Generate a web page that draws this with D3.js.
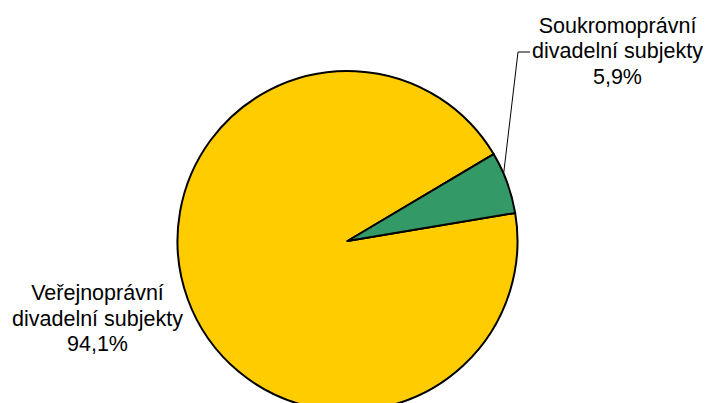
<!DOCTYPE html>
<html><head><meta charset="utf-8">
<script src="https://cdn.jsdelivr.net/npm/d3@7"></script>
<style>html,body{margin:0;padding:0;background:#fff;}svg{display:block;}</style>
</head><body>
<svg id="chart" width="707" height="403"></svg>
<script>
const categories = ["Veřejnoprávní divadelní subjekty", "Soukromoprávní divadelní subjekty"];
const values = [94.1, 5.9];
const labelLines = [["Veřejnoprávní", "divadelní subjekty", "94,1%"], ["Soukromoprávní", "divadelní subjekty", "5,9%"]];
const colors = ["#FFCC00", "#339966"];

const svg = d3.select("#chart");
const cx = 347.5, cy = 241, r = 170;
const start = 80.5 * Math.PI / 180;
const pie = d3.pie().sort(null).value(d => d.v).startAngle(start).endAngle(start + 2 * Math.PI);
const data = pie(categories.map((c, i) => ({c, v: values[i], i})));
const arc = d3.arc().innerRadius(0).outerRadius(r);
const g = svg.append("g").attr("transform", `translate(${cx},${cy})`);
g.selectAll("path").data(data).join("path")
  .attr("d", arc)
  .attr("fill", d => colors[d.data.i])
  .attr("stroke", "#000").attr("stroke-width", 2).attr("stroke-linejoin", "round");

// leader line for small slice (anchored on the slice's outer edge)
const green = data[1];
const anchor = green.startAngle + (green.endAngle - green.startAngle) * 0.35;
const px = cx + Math.sin(anchor) * r, py = cy - Math.cos(anchor) * r;
svg.append("polyline")
  .attr("points", `${px},${py} 518,52 530,52`)
  .attr("fill", "none").attr("stroke", "#000").attr("stroke-width", 1);

const labelPos = [{x: 97.5, y: 300}, {x: 617.5, y: 32.5}];
labelLines.forEach((lines, i) => {
  const t = svg.append("text")
    .attr("font-family", "Liberation Sans, Arial, sans-serif")
    .attr("font-size", 21.5).attr("fill", "#000").attr("text-anchor", "middle");
  lines.forEach((l, j) => t.append("tspan").attr("x", labelPos[i].x).attr("y", labelPos[i].y + j * 25.5).text(l));
});
</script>
</body></html>
